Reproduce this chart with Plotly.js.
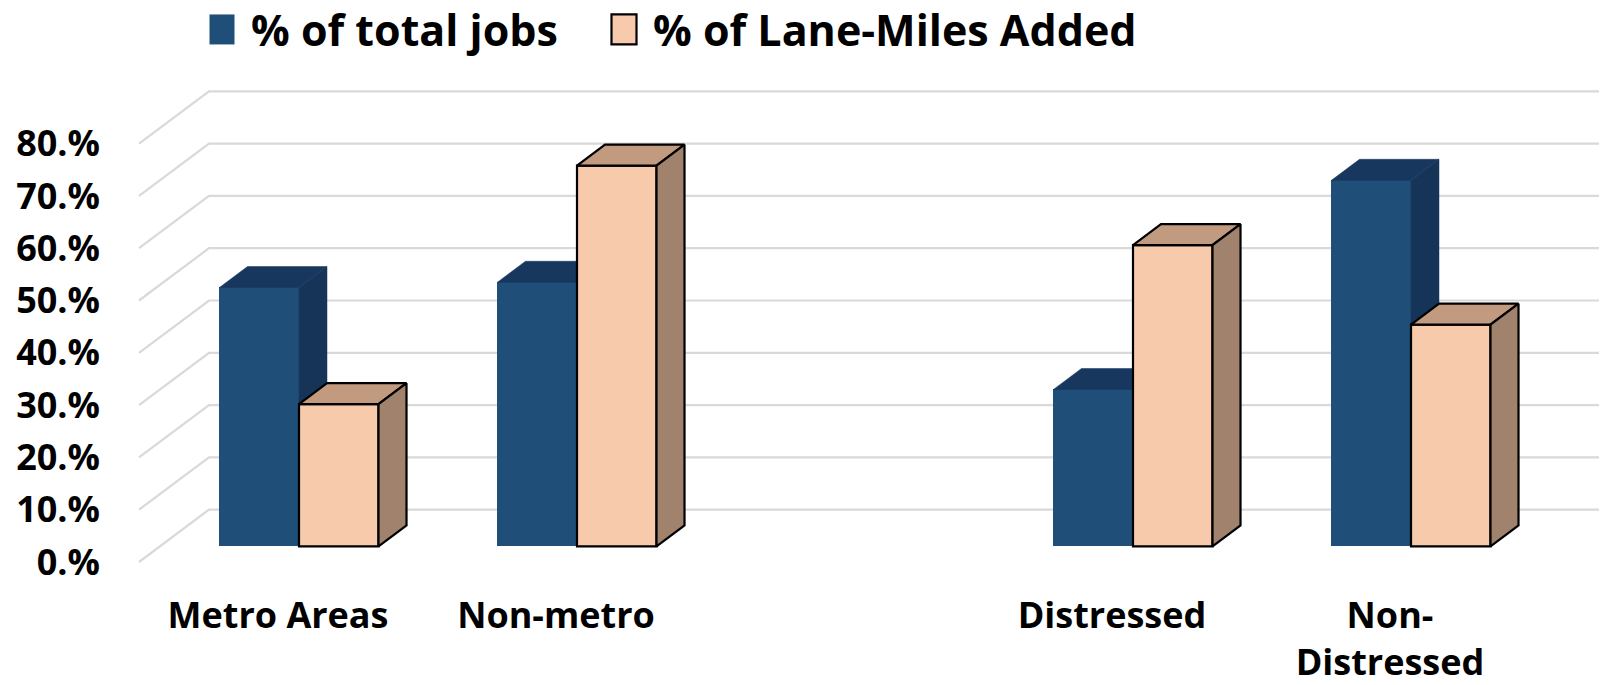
<!DOCTYPE html>
<html>
<head>
<meta charset="utf-8">
<script src="https://cdn.plot.ly/plotly-3.0.1.min.js"></script>
<style>
  html, body { margin: 0; padding: 0; background: #ffffff; }
  #chart { width: 1601px; height: 685px; }
</style>
</head>
<body>
<div id="chart"></div>
<script>
// ---------------- data ----------------
const categories = ["Metro Areas", "Non-metro", "Distressed", "Non-<br>Distressed"];
const jobsPct = [49.5, 50.5, 30.0, 70.0];
const laneMilesPct = [27.2, 72.8, 57.6, 42.4];
const seriesNames = ["% of total jobs", "% of Lane-Miles Added"];
const yTickValues = [0, 10, 20, 30, 40, 50, 60, 70, 80];
const yTickLabels = ["0.%", "10.%", "20.%", "30.%", "40.%", "50.%", "60.%", "70.%", "80.%"];

// ---------------- layout / 3D geometry ----------------
const W = 1601, H = 685;
const M = { l: 104, r: 1, t: 70, b: 110, autoexpand: false };
const CAT_PX = 278;        // pixels per category slot
const X0_PX = 278;         // pixel x of first slot (front plane)
const Y0_PX = 562;         // pixel y of value 0 (front plane)
const PX_PER_UNIT = 5.23;  // pixels per percentage point
const DEPTH_X_PX = 70, DEPTH_Y_PX = 52.3; // oblique depth offset of the whole floor
const DX = DEPTH_X_PX / CAT_PX;        // depth shift in x data units
const DY = DEPTH_Y_PX / PX_PER_UNIT;   // depth shift in y data units
const Z_FRONT = 0.3, Z_BACK = 0.7;     // bar depth within the floor
const BAR_W = 0.286;                   // bar width in category units
const GAP_AFTER = 2;                   // an empty slot separates the two groups

const slotOf = i => i + (i >= GAP_AFTER ? 1 : 0);
const slots = categories.map((c, i) => slotOf(i));
const boxLeft = Math.min(...slots) - 0.5;
const boxRight = Math.max(...slots) + 0.5;

const xRange = [(M.l - X0_PX) / CAT_PX, (W - M.r - X0_PX) / CAT_PX];
const yRange = [(Y0_PX - (H - M.b)) / PX_PER_UNIT, (Y0_PX - M.t) / PX_PER_UNIT];

const colors = {
  jobs:  { front: "#1F4E79", top: "#17375E", side: "#163458", line: null },
  lanes: { front: "#F7CAAC", top: "#C19A80", side: "#A1826C", line: "#000000" }
};

// project a 3D point (x3 in category units, y3 in %, z in 0..1 depth) to data coords
const proj = (x3, y3, z) => [x3 + z * DX, y3 + z * DY];

function facePolys(values, x3a, x3b) {
  const top = { x: [], y: [] }, side = { x: [], y: [] };
  values.forEach((v, i) => {
    const s = slots[i];
    const a = s + x3a, b = s + x3b;
    const tp = [proj(a, v, Z_FRONT), proj(b, v, Z_FRONT), proj(b, v, Z_BACK), proj(a, v, Z_BACK), proj(a, v, Z_FRONT)];
    tp.forEach(p => { top.x.push(p[0]); top.y.push(p[1]); });
    top.x.push(null); top.y.push(null);
    const sp = [proj(b, 0, Z_FRONT), proj(b, v, Z_FRONT), proj(b, v, Z_BACK), proj(b, 0, Z_BACK), proj(b, 0, Z_FRONT)];
    sp.forEach(p => { side.x.push(p[0]); side.y.push(p[1]); });
    side.x.push(null); side.y.push(null);
  });
  return { top, side };
}

function seriesTraces(values, name, col, x3a, x3b, xa, ya, legendId) {
  const lineW = col.line ? 2.2 : 0;
  const lineC = col.line || col.front;
  const front = {
    type: "bar", name: name, x: slots, y: values,
    base: Z_FRONT * DY, width: BAR_W, offset: x3a + Z_FRONT * DX,
    marker: { color: col.front, line: { color: lineC, width: lineW } },
    xaxis: xa, yaxis: ya, showlegend: true, legend: legendId, hoverinfo: "skip"
  };
  const f = facePolys(values, x3a, x3b);
  const top = {
    type: "scatter", mode: "lines", x: f.top.x, y: f.top.y, fill: "toself",
    fillcolor: col.top, line: { color: col.line ? lineC : col.top, width: col.line ? 2.2 : 0.5 },
    xaxis: xa, yaxis: ya, showlegend: false, hoverinfo: "skip"
  };
  const side = {
    type: "scatter", mode: "lines", x: f.side.x, y: f.side.y, fill: "toself",
    fillcolor: col.side, line: { color: col.line ? lineC : col.side, width: col.line ? 2.2 : 0.5 },
    xaxis: xa, yaxis: ya, showlegend: false, hoverinfo: "skip"
  };
  return [front, top, side];
}

const traces = [
  ...seriesTraces(jobsPct, seriesNames[0], colors.jobs, -BAR_W, 0, "x", "y", "legend"),
  ...seriesTraces(laneMilesPct, seriesNames[1], colors.lanes, 0, BAR_W, "x2", "y2", "legend2")
];

// gridlines: left side wall slant + back wall horizontal
const shapes = yTickValues.map(t => {
  const p0 = proj(boxLeft, t, 0), p1 = proj(boxLeft, t, 1), p2 = proj(boxRight, t, 1);
  return {
    type: "path", xref: "x", yref: "y", layer: "below",
    path: `M${p0[0]},${p0[1]} L${p1[0]},${p1[1]} L${p2[0]},${p2[1]}`,
    line: { color: "#D9D9D9", width: 2.2 }
  };
});

const tickFont = { family: "Open Sans", size: 36, color: "#000000", weight: "bold" };
const plotW = W - M.l - M.r, plotH = H - M.t - M.b;
const legendBase = {
  orientation: "h", xanchor: "left",
  y: (H - M.b - 29.5) / plotH, yanchor: "middle",
  font: { family: "Open Sans", size: 43, color: "#000000", weight: "bold" },
  itemwidth: 48, bgcolor: "rgba(0,0,0,0)"
};

const layout = {
  width: W, height: H,
  margin: M,
  paper_bgcolor: "#ffffff", plot_bgcolor: "rgba(0,0,0,0)",
  font: { family: "Open Sans", color: "#000000" },
  showlegend: true,
  legend: Object.assign({}, legendBase, { x: (193 - M.l) / plotW }),
  legend2: Object.assign({}, legendBase, { x: (595 - M.l) / plotW }),
  xaxis: {
    range: xRange, fixedrange: true, showgrid: false, zeroline: false, showline: false,
    tickvals: slots, ticktext: categories, ticks: "", tickfont: tickFont, ticklabelstandoff: 16
  },
  yaxis: {
    range: yRange, fixedrange: true, showgrid: false, zeroline: false, showline: false,
    tickvals: yTickValues, ticktext: yTickLabels, ticks: "", tickfont: tickFont, ticklabelstandoff: 3
  },
  xaxis2: { overlaying: "x", range: xRange, visible: false, fixedrange: true },
  yaxis2: { overlaying: "y", range: yRange, visible: false, fixedrange: true },
  bargap: 0,
  shapes: shapes
};

Plotly.newPlot("chart", traces, layout, { displayModeBar: false, staticPlot: true }).then(gd => {
  gd.querySelectorAll(".legendpoints path").forEach(p => {
    p.setAttribute("d", "M12.5,15H-12.5V-15H12.5Z");
  });
});
</script>
</body>
</html>
